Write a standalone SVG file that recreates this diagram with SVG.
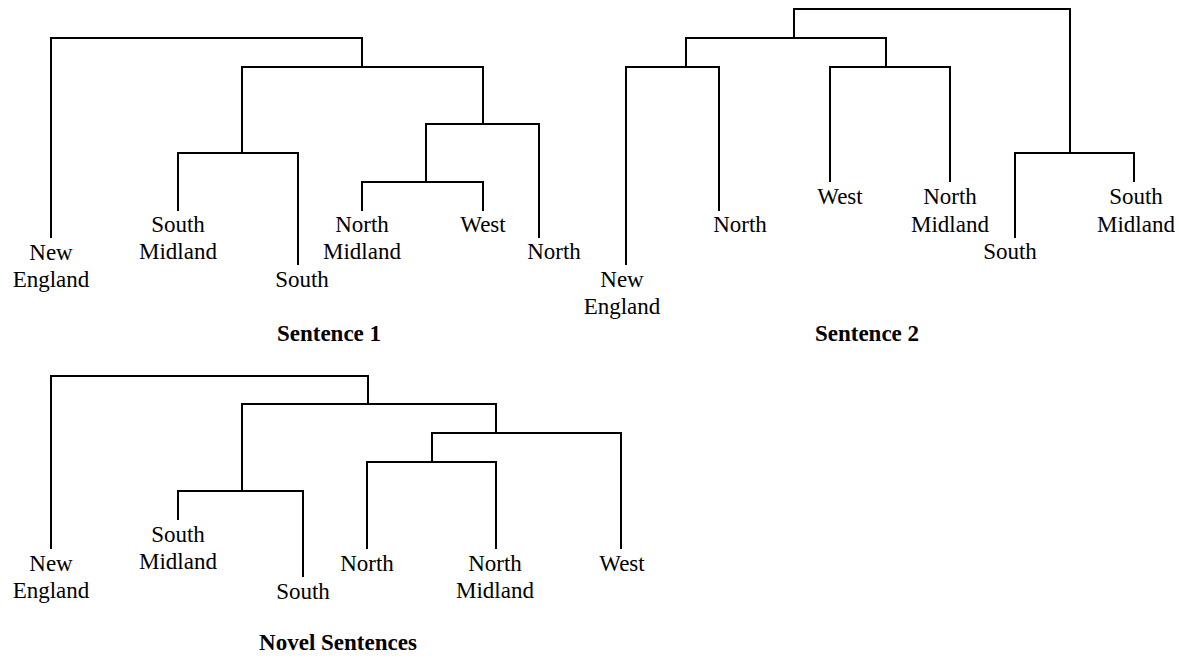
<svg xmlns="http://www.w3.org/2000/svg" width="1179" height="659" viewBox="0 0 1179 659">
<style>
.c{fill:none;stroke:#000;stroke-width:2;stroke-linecap:square}
text{font-family:"Liberation Serif","Times New Roman",serif;font-size:23px;fill:#000;text-anchor:middle}
.t{font-weight:bold}
</style>
<rect width="1179" height="659" fill="#fff"/>
<g id="connectors">
<g id="tree1-lines">
<path class="c" d="M51 237V38H362V67"/>
<path class="c" d="M242 153V67H483V124"/>
<path class="c" d="M178 210V153H298V264"/>
<path class="c" d="M426 182V124H539V237"/>
<path class="c" d="M362 210V182H483V210"/>
</g>
<g id="tree2-lines">
<path class="c" d="M794 38V9H1070V153"/>
<path class="c" d="M686 67V38H886V67"/>
<path class="c" d="M626 264V67H719V210"/>
<path class="c" d="M830 181V67H950V181"/>
<path class="c" d="M1015 237V153H1134V181"/>
</g>
<g id="tree3-lines">
<path class="c" d="M51 548V376H368V404"/>
<path class="c" d="M242 491V404H496V433"/>
<path class="c" d="M178 519V491H303V576"/>
<path class="c" d="M432 462V433H621V548"/>
<path class="c" d="M367 548V462H496V548"/>
</g>
</g>
<g id="s1-new-england"><text x="51" y="260">New</text><text x="51" y="287">England</text></g>
<g id="s1-south-midland"><text x="178" y="232">South</text><text x="178" y="259">Midland</text></g>
<g id="s1-south"><text x="302" y="287">South</text></g>
<g id="s1-north-midland"><text x="362" y="232">North</text><text x="362" y="259">Midland</text></g>
<g id="s1-west"><text x="483" y="232">West</text></g>
<g id="s1-north"><text x="554" y="259">North</text></g>
<g id="s1-title"><text class="t" x="329" y="341">Sentence 1</text></g>
<g id="s2-new-england"><text x="622" y="287">New</text><text x="622" y="314">England</text></g>
<g id="s2-north"><text x="740" y="232">North</text></g>
<g id="s2-west"><text x="840" y="204">West</text></g>
<g id="s2-north-midland"><text x="950" y="204">North</text><text x="950" y="232">Midland</text></g>
<g id="s2-south"><text x="1010" y="259">South</text></g>
<g id="s2-south-midland"><text x="1136" y="204">South</text><text x="1136" y="232">Midland</text></g>
<g id="s2-title"><text class="t" x="867" y="341">Sentence 2</text></g>
<g id="n-new-england"><text x="51" y="571">New</text><text x="51" y="598">England</text></g>
<g id="n-south-midland"><text x="178" y="542">South</text><text x="178" y="569">Midland</text></g>
<g id="n-south"><text x="303" y="599">South</text></g>
<g id="n-north"><text x="367" y="571">North</text></g>
<g id="n-north-midland"><text x="495" y="571">North</text><text x="495" y="598">Midland</text></g>
<g id="n-west"><text x="622" y="571">West</text></g>
<g id="n-title"><text class="t" x="338" y="650">Novel Sentences</text></g>
</svg>
